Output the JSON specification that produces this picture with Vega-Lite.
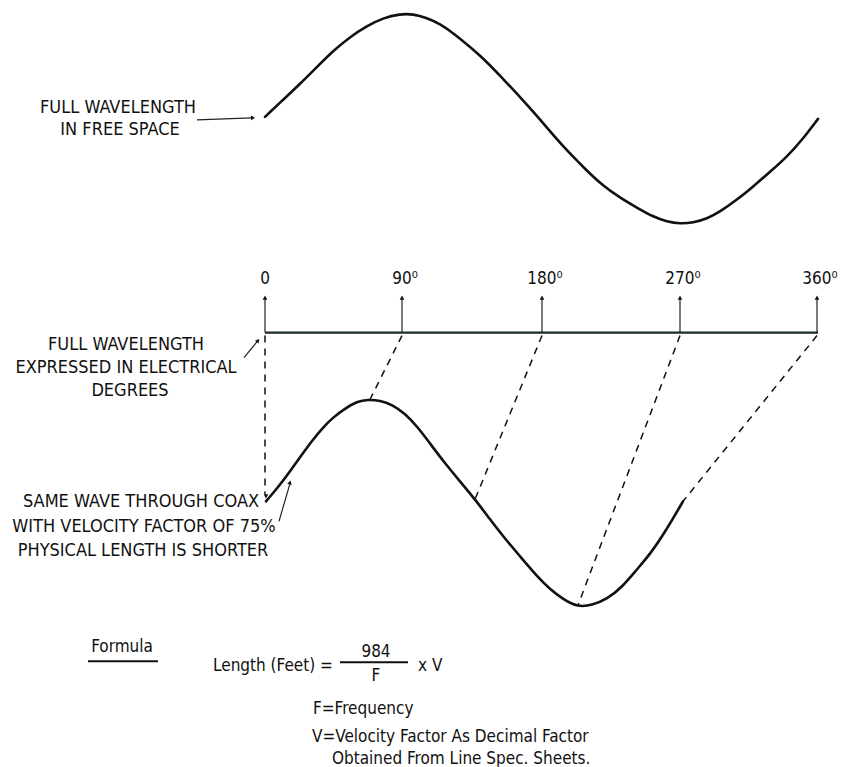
{
  "$schema": "https://vega.github.io/schema/vega-lite/v6.json",
  "width": 841,
  "height": 767,
  "padding": 0,
  "autosize": {"type": "fit", "contains": "padding"},
  "background": "white",
  "config": {"view": {"stroke": null}},
  "datasets": {
    "waves": [
      {"wave": "free", "i": 1, "x": 265, "y": 117}, {"wave": "free", "i": 2, "x": 283, "y": 100}, {"wave": "free", "i": 3, "x": 300, "y": 84},
      {"wave": "free", "i": 4, "x": 317, "y": 67}, {"wave": "free", "i": 5, "x": 333, "y": 51}, {"wave": "free", "i": 6, "x": 350, "y": 37},
      {"wave": "free", "i": 7, "x": 367, "y": 26}, {"wave": "free", "i": 8, "x": 383, "y": 18}, {"wave": "free", "i": 9, "x": 400, "y": 14},
      {"wave": "free", "i": 10, "x": 413, "y": 14}, {"wave": "free", "i": 11, "x": 427, "y": 18}, {"wave": "free", "i": 12, "x": 440, "y": 24},
      {"wave": "free", "i": 13, "x": 453, "y": 33}, {"wave": "free", "i": 14, "x": 470, "y": 47}, {"wave": "free", "i": 15, "x": 487, "y": 62},
      {"wave": "free", "i": 16, "x": 503, "y": 79}, {"wave": "free", "i": 17, "x": 520, "y": 97}, {"wave": "free", "i": 18, "x": 537, "y": 116},
      {"wave": "free", "i": 19, "x": 553, "y": 135}, {"wave": "free", "i": 20, "x": 570, "y": 154}, {"wave": "free", "i": 21, "x": 587, "y": 171},
      {"wave": "free", "i": 22, "x": 603, "y": 186}, {"wave": "free", "i": 23, "x": 620, "y": 198}, {"wave": "free", "i": 24, "x": 637, "y": 208},
      {"wave": "free", "i": 25, "x": 653, "y": 217}, {"wave": "free", "i": 26, "x": 667, "y": 222}, {"wave": "free", "i": 27, "x": 680, "y": 224},
      {"wave": "free", "i": 28, "x": 693, "y": 223}, {"wave": "free", "i": 29, "x": 707, "y": 219}, {"wave": "free", "i": 30, "x": 720, "y": 212},
      {"wave": "free", "i": 31, "x": 737, "y": 200}, {"wave": "free", "i": 32, "x": 753, "y": 187}, {"wave": "free", "i": 33, "x": 770, "y": 172},
      {"wave": "free", "i": 34, "x": 787, "y": 157}, {"wave": "free", "i": 35, "x": 803, "y": 139}, {"wave": "free", "i": 36, "x": 818, "y": 119},
      {"wave": "coax", "i": 1, "x": 266, "y": 502}, {"wave": "coax", "i": 2, "x": 278, "y": 488}, {"wave": "coax", "i": 3, "x": 290, "y": 472},
      {"wave": "coax", "i": 4, "x": 302, "y": 455}, {"wave": "coax", "i": 5, "x": 313, "y": 440}, {"wave": "coax", "i": 6, "x": 323, "y": 428},
      {"wave": "coax", "i": 7, "x": 333, "y": 418}, {"wave": "coax", "i": 8, "x": 345, "y": 409}, {"wave": "coax", "i": 9, "x": 357, "y": 402},
      {"wave": "coax", "i": 10, "x": 368, "y": 400}, {"wave": "coax", "i": 11, "x": 380, "y": 401}, {"wave": "coax", "i": 12, "x": 392, "y": 405},
      {"wave": "coax", "i": 13, "x": 405, "y": 414}, {"wave": "coax", "i": 14, "x": 418, "y": 428}, {"wave": "coax", "i": 15, "x": 430, "y": 444},
      {"wave": "coax", "i": 16, "x": 445, "y": 464}, {"wave": "coax", "i": 17, "x": 460, "y": 482}, {"wave": "coax", "i": 18, "x": 475, "y": 500},
      {"wave": "coax", "i": 19, "x": 490, "y": 520}, {"wave": "coax", "i": 20, "x": 503, "y": 537}, {"wave": "coax", "i": 21, "x": 520, "y": 557},
      {"wave": "coax", "i": 22, "x": 537, "y": 577}, {"wave": "coax", "i": 23, "x": 550, "y": 590}, {"wave": "coax", "i": 24, "x": 563, "y": 600},
      {"wave": "coax", "i": 25, "x": 578, "y": 608}, {"wave": "coax", "i": 26, "x": 592, "y": 606}, {"wave": "coax", "i": 27, "x": 607, "y": 600},
      {"wave": "coax", "i": 28, "x": 622, "y": 588}, {"wave": "coax", "i": 29, "x": 637, "y": 570}, {"wave": "coax", "i": 30, "x": 650, "y": 555},
      {"wave": "coax", "i": 31, "x": 665, "y": 533}, {"wave": "coax", "i": 32, "x": 683, "y": 502}
    ],
    "axisline": [{"x": 265, "y": 333, "x2": 818, "y2": 333}],
    "thin": [
      {"x": 265, "y": 333, "x2": 265, "y2": 298}, {"x": 402, "y": 333, "x2": 402, "y2": 298},
      {"x": 542, "y": 333, "x2": 542, "y2": 298}, {"x": 680, "y": 333, "x2": 680, "y2": 298},
      {"x": 817, "y": 333, "x2": 817, "y2": 298},
      {"x": 197, "y": 120, "x2": 252, "y2": 118},
      {"x": 244, "y": 358, "x2": 258, "y2": 341},
      {"x": 279, "y": 522, "x2": 290, "y2": 484}
    ],
    "dashed": [
      {"x": 265, "y": 336, "x2": 265, "y2": 495},
      {"x": 402, "y": 336, "x2": 370, "y2": 400},
      {"x": 542, "y": 336, "x2": 475, "y2": 500},
      {"x": 680, "y": 336, "x2": 578, "y2": 606},
      {"x": 817, "y": 336, "x2": 683, "y2": 502}
    ],
    "heads": [
      {"x": 265, "y": 298, "dir": 0}, {"x": 402, "y": 298, "dir": 0}, {"x": 542, "y": 298, "dir": 0},
      {"x": 680, "y": 298, "dir": 0}, {"x": 817, "y": 298, "dir": 0},
      {"x": 253, "y": 118, "dir": 88},
      {"x": 258, "y": 341, "dir": 39},
      {"x": 290, "y": 483, "dir": 16},
      {"x": 266, "y": 497, "dir": 180}
    ],
    "bars": [
      {"x": 88, "y": 662, "x2": 158, "y2": 662},
      {"x": 340, "y": 663, "x2": 408, "y2": 663}
    ],
    "captions": [
      {"t": "FULL WAVELENGTH", "x": 118, "y": 108},
      {"t": "IN FREE SPACE", "x": 120, "y": 130},
      {"t": "FULL WAVELENGTH", "x": 126, "y": 345},
      {"t": "EXPRESSED IN ELECTRICAL", "x": 126, "y": 368},
      {"t": "DEGREES", "x": 130, "y": 392},
      {"t": "SAME WAVE THROUGH COAX", "x": 141, "y": 503},
      {"t": "WITH VELOCITY FACTOR OF 75%", "x": 144, "y": 528},
      {"t": "PHYSICAL LENGTH IS SHORTER", "x": 143, "y": 552}
    ],
    "degrees": [
      {"t": "0", "x": 265, "y": 279},
      {"t": "90⁰", "x": 405, "y": 279},
      {"t": "180⁰", "x": 545, "y": 279},
      {"t": "270⁰", "x": 683, "y": 279},
      {"t": "360⁰", "x": 820, "y": 279}
    ],
    "formulaCenter": [
      {"t": "Formula", "x": 122, "y": 648},
      {"t": "984", "x": 376, "y": 653},
      {"t": "F", "x": 376, "y": 677}
    ],
    "formulaLeft": [
      {"t": "Length (Feet) =", "x": 213, "y": 667},
      {"t": "x V", "x": 418, "y": 667},
      {"t": "F=Frequency", "x": 313, "y": 710},
      {"t": "V=Velocity Factor As Decimal Factor", "x": 312, "y": 738},
      {"t": "Obtained From Line Spec.  Sheets.", "x": 332, "y": 760}
    ]
  },
  "encoding": {
    "x": {"field": "x", "type": "quantitative", "scale": {"domain": [0, 841], "nice": false, "zero": false}, "axis": null},
    "y": {"field": "y", "type": "quantitative", "scale": {"domain": [0, 767], "reverse": true, "nice": false, "zero": false}, "axis": null}
  },
  "layer": [
    {
      "data": {"name": "waves"},
      "mark": {"type": "line", "interpolate": "basis", "color": "#111", "strokeWidth": 2.6, "strokeCap": "round"},
      "encoding": {"detail": {"field": "wave"}, "order": {"field": "i", "type": "quantitative"}}
    },
    {
      "data": {"name": "axisline"},
      "mark": {"type": "rule", "color": "#1a2a2a", "strokeWidth": 2.2},
      "encoding": {"x2": {"field": "x2"}, "y2": {"field": "y2"}}
    },
    {
      "data": {"name": "thin"},
      "mark": {"type": "rule", "color": "#222", "strokeWidth": 1.2},
      "encoding": {"x2": {"field": "x2"}, "y2": {"field": "y2"}}
    },
    {
      "data": {"name": "dashed"},
      "mark": {"type": "rule", "color": "#111", "strokeWidth": 1.5, "strokeDash": [7, 6]},
      "encoding": {"x2": {"field": "x2"}, "y2": {"field": "y2"}}
    },
    {
      "data": {"name": "bars"},
      "mark": {"type": "rule", "color": "#111", "strokeWidth": 2},
      "encoding": {"x2": {"field": "x2"}, "y2": {"field": "y2"}}
    },
    {
      "data": {"name": "heads"},
      "mark": {"type": "point", "shape": "triangle-up", "filled": true, "color": "#111", "size": 22, "opacity": 1},
      "encoding": {"angle": {"field": "dir", "type": "quantitative", "scale": null}}
    },
    {
      "data": {"name": "captions"},
      "mark": {"type": "text", "align": "center", "baseline": "middle", "font": "DejaVu Sans Condensed, sans-serif", "fontSize": 18, "color": "#111"},
      "encoding": {"text": {"field": "t"}}
    },
    {
      "data": {"name": "degrees"},
      "mark": {"type": "text", "align": "center", "baseline": "middle", "font": "DejaVu Sans Condensed, sans-serif", "fontSize": 17, "color": "#111"},
      "encoding": {"text": {"field": "t"}}
    },
    {
      "data": {"name": "formulaCenter"},
      "mark": {"type": "text", "align": "center", "baseline": "middle", "font": "DejaVu Sans Condensed, sans-serif", "fontSize": 17, "color": "#111"},
      "encoding": {"text": {"field": "t"}}
    },
    {
      "data": {"name": "formulaLeft"},
      "mark": {"type": "text", "align": "left", "baseline": "middle", "font": "DejaVu Sans Condensed, sans-serif", "fontSize": 17, "color": "#111"},
      "encoding": {"text": {"field": "t"}}
    }
  ]
}
